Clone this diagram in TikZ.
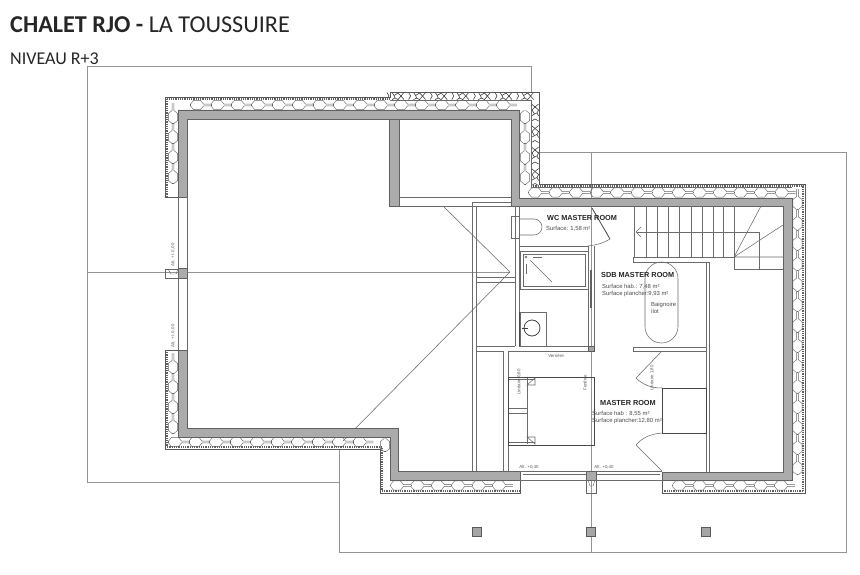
\documentclass[tikz,border=0pt]{standalone}
\usepackage{fontspec}
\setmainfont{Liberation Sans}
\newfontfamily\titlefont{Carlito}
\tikzset{
 roof/.style={draw=black!42,line width=0.8pt},
 thin line/.style={draw=black!58,line width=0.55pt},
 dark line/.style={draw=black!72,line width=0.8pt},
 heavy line/.style={draw=black!75,line width=0.9pt},
 wall/.style={fill=black!33,draw=black!62,line width=0.5pt},
 cell/.style={draw=black!60,line width=0.45pt},
 clad/.style={draw=black!62,line width=2pt,dash pattern=on 0.7pt off 1.1pt},
 cladedge/.style={draw=black!65,line width=0.7pt},
 stone/.style={draw=black!75,line width=0.6pt},
 room/.style={font=\bfseries\fontsize{7.3}{8}\selectfont,text=black!85,inner sep=0pt,anchor=base west},
 note/.style={font=\fontsize{5.9}{7}\selectfont,text=black!70,inner sep=0pt,anchor=base west},
 tiny/.style={font=\fontsize{4.4}{5}\selectfont,text=black!65,inner sep=0pt},
 post/.style={fill=black!35,draw=black!65,line width=0.6pt},
}
\newcommand{\hexcell}[3]{\begin{scope}[shift={(#1,#2)},rotate=#3]
 \draw[cell] (-6.5,-0.9)--(-3.5,-4.6)--(3.5,-4.6)--(6.5,-0.9)--(13.9,-0.9);
 \draw[cell] (-6.5,0.9)--(-3.5,4.6)--(3.5,4.6)--(6.5,0.9)--(13.9,0.9);
 \draw[cell] (-6.5,-0.9)--(-6.5,0.9);
\end{scope}}
\newcommand{\inschain}[6]{\foreach \i in {0,...,#5}{\pgfmathsetmacro{\cx}{#1+\i*#3}\pgfmathsetmacro{\cy}{#2+\i*#4}\hexcell{\cx}{\cy}{#6}}}
\newcommand{\stonecell}[3]{\begin{scope}[shift={(#1,#2)},rotate=#3]
 \draw[stone] (-8,-3.6)--(-6,0)--(-8,3.6);
 \draw[stone] (-3,-3.6)--(-1,-0.5)--(3,-3)--(6,0)--(3,3.6)--(0,2)--(-3,3.6);
 \draw[stone] (-1,-0.5)--(0,2);
 \draw[stone] (6,0)--(9,-3.6);
 \draw[stone] (6,0)--(9,3.6);
\end{scope}}
\newcommand{\stonechain}[6]{\foreach \i in {0,...,#5}{\pgfmathsetmacro{\cx}{#1+\i*#3}\pgfmathsetmacro{\cy}{#2+\i*#4}\stonecell{\cx}{\cy}{#6}}}
\begin{document}
\begin{tikzpicture}[x=1pt,y=-1pt]
\useasboundingbox (0,0) rectangle (860,575);
\fill[white] (0,0) rectangle (860,575);
% titles
\node[inner sep=0pt,anchor=base west,font=\titlefont\fontsize{24.2}{28}\selectfont,text=black!85] (title) at (10,33) {\textbf{CHALET RJO -} LA TOUSSUIRE};
\node[inner sep=0pt,anchor=base west,font=\titlefont\fontsize{18}{21}\selectfont,text=black!85] (level) at (10,65) {NIVEAU R+3};
% roof outline
\draw[roof] (531,92)--(531,66)--(87,66)--(87,482)--(339,482);
\draw[roof] (339,449)--(339,552)--(846,552)--(846,152)--(537,152);
\draw[roof] (591,152)--(591,552);
\draw[roof] (87,272)--(510,272);
\draw[thin line] (443,206)--(510,272)--(343,441);
% honeycomb insulation
\inschain{197}{105}{20.4}{0}{15}{0}
\inschain{173}{117}{0}{20}{3}{90}
\inschain{173}{367}{0}{20}{3}{90}
\inschain{175}{442}{20.5}{0}{9}{0}
\inschain{385}{445}{0}{20}{0}{90}
\inschain{397}{485.5}{20.4}{0}{5}{0}
\inschain{679}{485.5}{20.4}{0}{5}{0}
\inschain{797.5}{203}{0}{20.4}{13}{90}
\inschain{535}{192.5}{20.55}{0}{12}{0}
\inschain{525}{117}{0}{20.2}{3}{90}
\fill[white] (520,100) rectangle (531,110);
% stones
\stonechain{395}{96}{21.6}{0}{6}{0}
\stonechain{535}{113}{0}{21.5}{3}{90}
% cladding
\draw[clad] (166.5,197)--(166.5,98.8)--(390,98.8);
\draw[clad] (166.5,350)--(166.5,447)--(381.8,447)--(381.8,491)--(520,491);
\draw[clad] (531,185.8)--(803.2,185.8)--(803.2,491)--(662,491);
\draw[cladedge] (178,197)--(165,197)--(165,97)--(390,97)--(390,92)--(539,92)--(539,184)--(805,184)--(805,493)--(662,493)--(662,480);
\draw[cladedge] (178,350)--(165,350)--(165,449)--(380,449)--(380,493)--(520,493)--(520,480);
\draw[thin line] (531,100)--(531,187)--(792,187);
\draw[thin line] (390,100)--(531,100);
% structural walls
\draw[wall] (178,197)--(178,110)--(519,110)--(519,198)--(792,198)--(792,480)--(662,480)--(662,472)--(783,472)--(783,206)--(511,206)--(511,119)--(187,119)--(187,197)--cycle;
\draw[wall] (178,350)--(187,350)--(187,428)--(398,428)--(398,471)--(520,471)--(520,480)--(390,480)--(390,437)--(178,437)--cycle;
\draw[wall] (389,119) rectangle (399,206);
% left windows and post
\draw[thin line] (178,197)--(178,268) (187,197)--(187,268);
\draw[thin line] (178,278)--(178,350) (187,278)--(187,350);
\draw[wall] (178,268) rectangle (187,278);
\draw[cell] (165,269) rectangle (178,278);
\draw[cell] (168,269)--(171,274)--(176,274)--(178,269);
\draw[thin line] (399,197)--(511,197) (399,206)--(511,206);
% south windows and post
\draw[thin line] (520,471)--(586,471) (520,480)--(586,480) (596,471)--(662,471) (596,480)--(662,480);
\draw[thin line] (523,474)--(586,474) (596,474)--(660,474);
\draw[wall] (586,471) rectangle (596,480);
\draw[cell] (586,480) rectangle (596,493);
\draw[cell] (588,480)--(590,486)--(593,486)--(595,480);
% stair well and closets, left side
\draw[thin line] (511,202)--(472,202)--(472,471);
\draw[thin line] (511,206)--(476,206)--(476,471);
\draw[thin line] (476,277)--(515,277) (476,282)--(515,282) (476,346)--(515,346) (476,351)--(503,351);
\draw[thin line] (515,206)--(515,346) (519,206)--(519,346);
\draw[thin line] (503,351)--(503,471) (508,351)--(508,471);
% WC
\draw[thin line] (511,216) rectangle (519,238);
\draw[thin line] (519,219)--(534,219) arc[start angle=-90,end angle=90,radius=8,y radius=8] --(519,235);
\draw[thin line] (519,246)--(588,246);
\draw[dark line] (592,208)--(610,239);
\draw[thin line] (610,239) .. controls (604,243) and (596,245) .. (588,246);
% partition
\draw[thin line] (588,246)--(588,350) (594,246)--(594,350);
\draw[line width=1.3pt,draw=black!62] (591,270)--(591,308);
\draw[post] (588,346) rectangle (594,351);
% shower
\draw[thin line] (520,251) rectangle (588,289);
\draw[thin line] (523,254) rectangle (585,286);
\draw[thin line] (530,260)--(552,282);
\draw[thin line] (533,257)--(542,257) (526,264)--(526,274);
\draw[thin line] (526,257) circle[radius=1];
% sink
\draw[thin line] (520,312) rectangle (546,346);
\draw[dark line] (532,328) circle[radius=8];
\draw[heavy line] (522,328)--(528,328);
\draw[dark line] (519,312)--(519,347);
% floor lines
\draw[thin line] (519,346)--(588,346) (508,351)--(588,351);
% stairs
\foreach \sx in {634,646,657,668,679,691,702,713,723,734}{\draw[thin line] (\sx,206)--(\sx,257);}
\draw[thin line] (633,257)--(734,257) (633,262)--(709,262) (633,257)--(633,262);
\draw[thin line] (637,232)--(759,232)--(759,269);
\draw[thin line] (641,227)--(636,232)--(641,237);
\draw[thin line] (734,206)--(734,269)--(783,269);
\draw[thin line] (734,257)--(761,206) (734,257)--(783,225) (734,257)--(783,257);
% right partition
\draw[thin line] (706,262)--(706,472) (709,262)--(709,472);
% bath
\draw[thin line] (661.5,262) arc[start angle=-90,end angle=-180,radius=16.5]--(645,326.5) arc[start angle=180,end angle=0,radius=16.5]--(678,278.5) arc[start angle=0,end angle=-90,radius=16.5];
\draw[thin line] (633,347)--(706,347) (633,351)--(706,351) (633,347)--(633,351);
% closets
\draw[dark line] (662,388) rectangle (706,433);
\draw[thin line] (662,351)--(636,378);
\draw[thin line] (636,378) .. controls (642,384) and (650,388) .. (662,388);
\draw[thin line] (636,445)--(662,471);
\draw[thin line] (636,445) .. controls (642,438) and (650,434) .. (662,433);
% bed
\draw[dark line] (508,377) rectangle (594,445);
\draw[thin line] (527,378)--(527,444);
\draw[thin line] (509,379)--(535,379) (509,408)--(527,408) (509,413)--(527,413) (509,442)--(535,442);
\draw[thin line] (527,385)--(535,378)--(535,385)--cycle;
\draw[thin line] (527,437)--(535,444)--(535,437)--cycle;
% posts outside
\draw[post] (472,527.5) rectangle (481,536.5);
\draw[post] (586.5,527.5) rectangle (595.5,536.5);
\draw[post] (701,527.5) rectangle (710,536.5);
% labels
\node[room] (wc) at (547,220) {WC MASTER ROOM};
\node[note] (wcs) at (546,230) {Surface: 1,58 m²};
\node[room] (sdb) at (601,277) {SDB MASTER ROOM};
\node[note] (sdba) at (602,288) {Surface hab.: 7,48 m²};
\node[note] (sdbb) at (602,295) {Surface plancher:9,93 m²};
\node[note] (bath) at (651,306) {Baignoire};
\node[note] (bathb) at (651,313) {ilot};
\node[room] (master) at (600,405) {MASTER ROOM};
\node[note] (ma) at (592,415) {Surface hab : 8,55 m²};
\node[note] (mb) at (592,422) {Surface plancher:12,80 m²};
\node[tiny] (verr) at (556,356) {Verrière};
\node[tiny,rotate=90] (ln1) at (519,382) {Linéaire 0,80};
\node[tiny,rotate=90] (ln2) at (652,378) {Linéaire 1,80};
\node[tiny,rotate=90] (fen) at (585,383) {Fenêtre};
\node[tiny] (alt1) at (529,467) {Alt. +0,40};
\node[tiny] (alt2) at (604,467) {Alt. +0,40};
\node[tiny,rotate=90] (alt3) at (173,255) {Alt. +/- 0,00};
\node[tiny,rotate=90] (alt4) at (173,336) {Alt. +/- 0,00};
\end{tikzpicture}
\end{document}
